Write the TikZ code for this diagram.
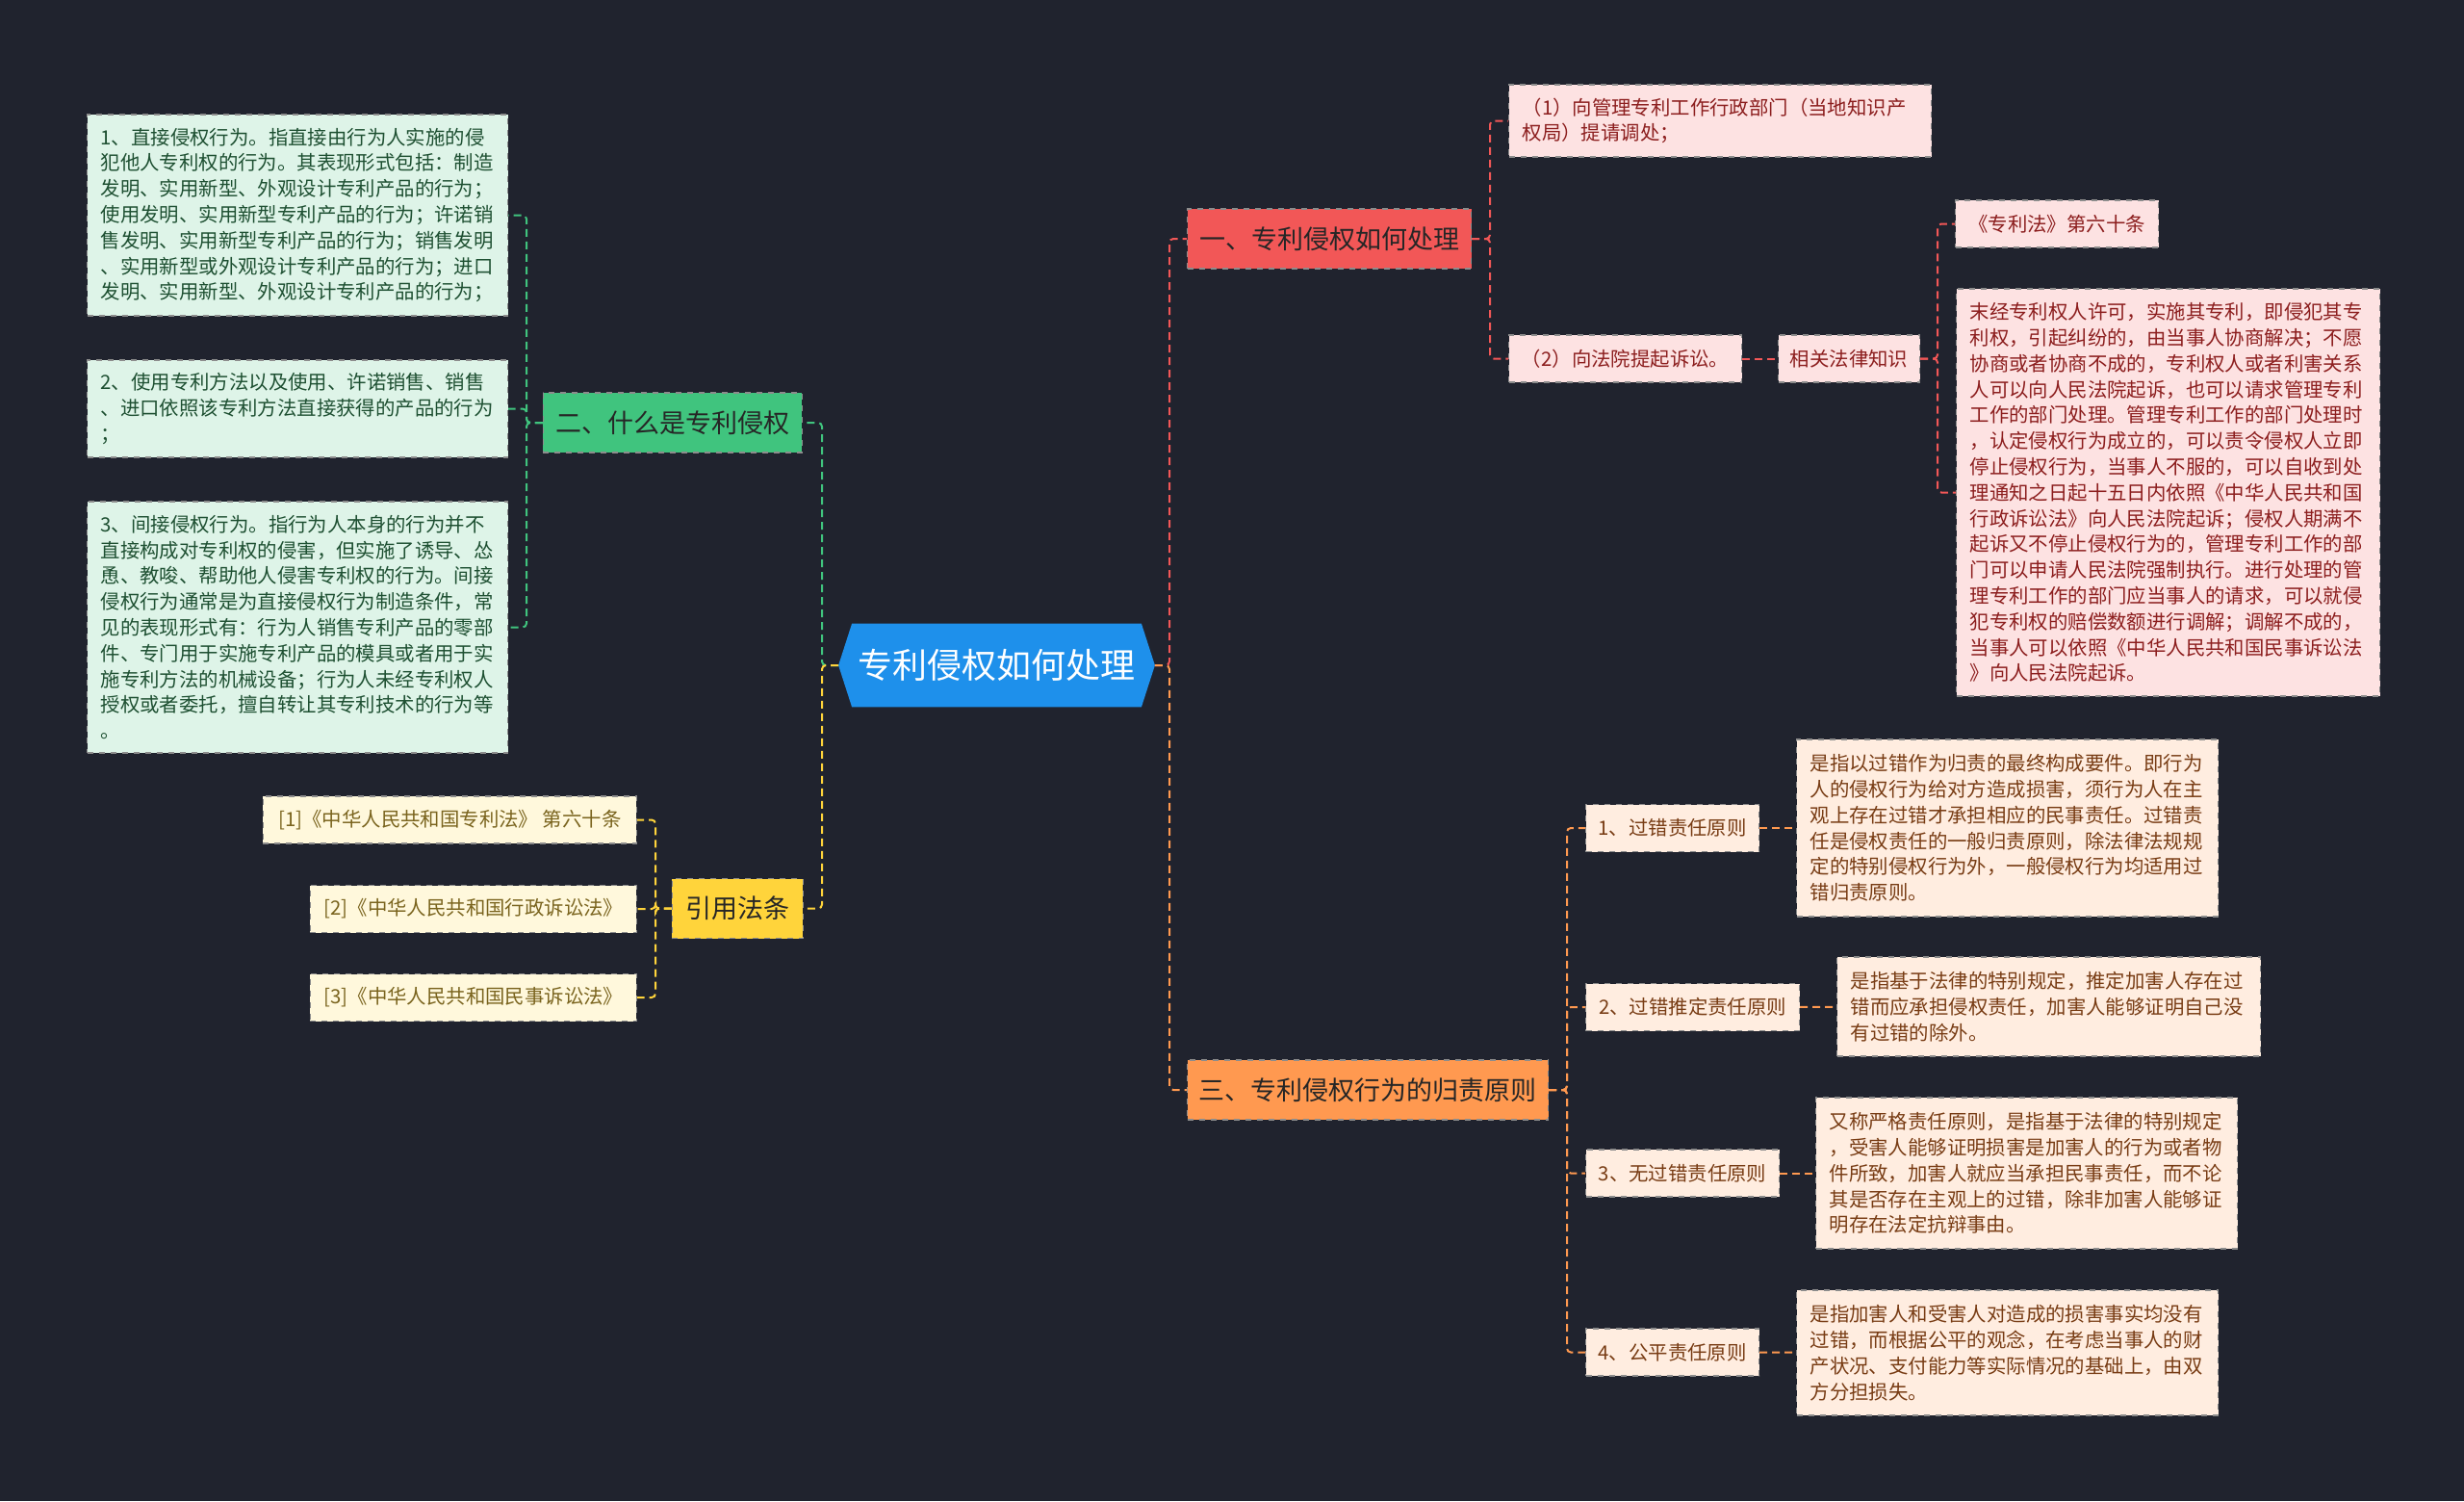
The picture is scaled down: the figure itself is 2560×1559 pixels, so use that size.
\documentclass[tikz,border=0pt]{standalone}
\usepackage{fontspec}
\setmainfont{Noto Sans CJK SC}
\usepackage{tikz}
\usetikzlibrary{positioning,calc,backgrounds}
\hfuzz=60pt
\hbadness=10000

\definecolor{bgdark}{RGB}{32,35,46}
\definecolor{rootblue}{RGB}{30,144,235}
\definecolor{brred}{RGB}{242,87,87}
\definecolor{brgreen}{RGB}{64,196,126}
\definecolor{bryellow}{RGB}{255,212,59}
\definecolor{brorange}{RGB}{255,153,80}
\definecolor{fmint}{RGB}{222,244,232}
\definecolor{fcream}{RGB}{255,248,220}
\definecolor{fpink}{RGB}{253,226,226}
\definecolor{fpeach}{RGB}{255,237,224}
\definecolor{tgreen}{RGB}{30,80,50}
\definecolor{tolive}{RGB}{122,100,30}
\definecolor{tred}{RGB}{140,30,30}
\definecolor{tbrown}{RGB}{120,60,20}

\begin{document}
\begin{tikzpicture}[
  x=0.5pt,y=-0.5pt,
  % --- shared look of the mind map boxes ---
  base/.style   ={draw=black!45,dashed,line width=0.6pt,inner ysep=0pt},
  rootbox/.style={inner xsep=10pt,minimum width=160.5pt,minimum height=43pt,
                  text=white,font=\fontsize{18pt}{20pt}\selectfont},
  branch/.style ={base,inner xsep=6pt,minimum height=31pt,text=black!85,
                  font=\fontsize{13.5pt}{16pt}\selectfont},
  leaf/.style   ={base,align=left,inner xsep=7pt,
                  font=\fontsize{10.2pt}{13.4pt}\selectfont},
  tag/.style    ={base,inner xsep=6pt,minimum height=24.5pt,
                  font=\fontsize{10.2pt}{13.4pt}\selectfont},
  link/.style   ={dashed,dash pattern=on 4pt off 2.5pt,line width=1pt,rounded corners=2pt},
  glink/.style  ={link,draw=brgreen},
  ylink/.style  ={link,draw=bryellow},
  rlink/.style  ={link,draw=brred},
  olink/.style  ={link,draw=brorange},
]

% ============================ canvas ============================
\useasboundingbox (0,0) rectangle (2560,1559);

% ============================ root and branches ============================
\node[rootbox] (root) at (1035.5,691) {专利侵权如何处理};

\node[branch,fill=brred,anchor=west,minimum width=147.5pt] (b1) at (1233,248) {一、专利侵权如何处理};
\node[branch,fill=brgreen,anchor=east,minimum width=134.5pt] (b2) at (834,439) {二、什么是专利侵权};
\node[branch,fill=bryellow,anchor=east,minimum width=68pt] (b3) at (835,943.5) {引用法条};
\node[branch,fill=brorange,anchor=west,minimum width=187.5pt] (b4) at (1233,1132) {三、专利侵权行为的归责原则};

\begin{scope}[on background layer]
  \fill[bgdark] (0,0) rectangle (2560,1559);
  \fill[rootblue] ([xshift=7pt]root.north west) -- ([xshift=-7pt]root.north east)
    -- (root.east) -- ([xshift=-7pt]root.south east) -- ([xshift=7pt]root.south west)
    -- (root.west) -- cycle;
\end{scope}

% ============================ green leaves ============================
\node[leaf,fill=fmint,text=tgreen,anchor=west,text width=204.5pt,minimum height=104.5pt] (g1) at (90,223.5)
  {1、直接侵权行为。指直接由行为人实施的侵\\
   犯他人专利权的行为。其表现形式包括：制造\\
   发明、实用新型、外观设计专利产品的行为；\\
   使用发明、实用新型专利产品的行为；许诺销\\
   售发明、实用新型专利产品的行为；销售发明\\
   、实用新型或外观设计专利产品的行为；进口\\
   发明、实用新型、外观设计专利产品的行为；};
\node[leaf,fill=fmint,text=tgreen,anchor=west,text width=204.5pt,minimum height=50.5pt] (g2) at (90,424.5)
  {2、使用专利方法以及使用、许诺销售、销售\\
   、进口依照该专利方法直接获得的产品的行为\\
   ；};
\node[leaf,fill=fmint,text=tgreen,anchor=west,text width=204.5pt,minimum height=130.5pt] (g3) at (90,651.5)
  {3、间接侵权行为。指行为人本身的行为并不\\
   直接构成对专利权的侵害，但实施了诱导、怂\\
   恿、教唆、帮助他人侵害专利权的行为。间接\\
   侵权行为通常是为直接侵权行为制造条件，常\\
   见的表现形式有：行为人销售专利产品的零部\\
   件、专门用于实施专利产品的模具或者用于实\\
   施专利方法的机械设备；行为人未经专利权人\\
   授权或者委托，擅自转让其专利技术的行为等\\
   。};

% ============================ cited laws ============================
\node[tag,fill=fcream,text=tolive,anchor=east,minimum width=194pt] (c1) at (662,851.5) {[1]《中华人民共和国专利法》 第六十条};
\node[tag,fill=fcream,text=tolive,anchor=east,minimum width=169.5pt] (c2) at (662,944) {[2]《中华人民共和国行政诉讼法》};
\node[tag,fill=fcream,text=tolive,anchor=east,minimum width=169.5pt] (c3) at (662,1036) {[3]《中华人民共和国民事诉讼法》};

% ============================ red leaves ============================
\node[leaf,fill=fpink,text=tred,anchor=west,text width=205.5pt,minimum height=37.5pt] (r1) at (1567,125.5)
  {（1）向管理专利工作行政部门（当地知识产\\
   权局）提请调处；};
\node[tag,fill=fpink,text=tred,anchor=west,minimum width=121pt] (r2) at (1567,372.5) {（2）向法院提起诉讼。};
\node[tag,fill=fpink,text=tred,anchor=west,minimum width=73.5pt] (r3) at (1847,372.5) {相关法律知识};
\node[tag,fill=fpink,text=tred,anchor=west,minimum width=105.5pt] (r4) at (2031,232.5) {《专利法》第六十条};
\node[leaf,fill=fpink,text=tred,anchor=west,text width=206pt,minimum height=211.5pt] (r5) at (2032,511.5)
  {末经专利权人许可，实施其专利，即侵犯其专\\
   利权，引起纠纷的，由当事人协商解决；不愿\\
   协商或者协商不成的，专利权人或者利害关系\\
   人可以向人民法院起诉，也可以请求管理专利\\
   工作的部门处理。管理专利工作的部门处理时\\
   ，认定侵权行为成立的，可以责令侵权人立即\\
   停止侵权行为，当事人不服的，可以自收到处\\
   理通知之日起十五日内依照《中华人民共和国\\
   行政诉讼法》向人民法院起诉；侵权人期满不\\
   起诉又不停止侵权行为的，管理专利工作的部\\
   门可以申请人民法院强制执行。进行处理的管\\
   理专利工作的部门应当事人的请求，可以就侵\\
   犯专利权的赔偿数额进行调解；调解不成的，\\
   当事人可以依照《中华人民共和国民事诉讼法\\
   》向人民法院起诉。};

% ============================ orange leaves ============================
\node[tag,fill=fpeach,text=tbrown,anchor=west,minimum width=90pt] (o1) at (1647,860) {1、过错责任原则};
\node[leaf,fill=fpeach,text=tbrown,anchor=west,text width=205pt,minimum height=92pt] (o1d) at (1866,860)
  {是指以过错作为归责的最终构成要件。即行为\\
   人的侵权行为给对方造成损害，须行为人在主\\
   观上存在过错才承担相应的民事责任。过错责\\
   任是侵权责任的一般归责原则，除法律法规规\\
   定的特别侵权行为外，一般侵权行为均适用过\\
   错归责原则。};
\node[tag,fill=fpeach,text=tbrown,anchor=west,minimum width=111pt] (o2) at (1647,1046) {2、过错推定责任原则};
\node[leaf,fill=fpeach,text=tbrown,anchor=west,text width=206pt,minimum height=51.5pt] (o2d) at (1908,1045.5)
  {是指基于法律的特别规定，推定加害人存在过\\
   错而应承担侵权责任，加害人能够证明自己没\\
   有过错的除外。};
\node[tag,fill=fpeach,text=tbrown,anchor=west,minimum width=100.5pt] (o3) at (1647,1218.5) {3、无过错责任原则};
\node[leaf,fill=fpeach,text=tbrown,anchor=west,text width=205pt,minimum height=78.5pt] (o3d) at (1886,1218.5)
  {又称严格责任原则，是指基于法律的特别规定\\
   ，受害人能够证明损害是加害人的行为或者物\\
   件所致，加害人就应当承担民事责任，而不论\\
   其是否存在主观上的过错，除非加害人能够证\\
   明存在法定抗辩事由。};
\node[tag,fill=fpeach,text=tbrown,anchor=west,minimum width=90pt] (o4) at (1647,1404.5) {4、公平责任原则};
\node[leaf,fill=fpeach,text=tbrown,anchor=west,text width=205pt,minimum height=65pt] (o4d) at (1866,1405)
  {是指加害人和受害人对造成的损害事实均没有\\
   过错，而根据公平的观念，在考虑当事人的财\\
   产状况、支付能力等实际情况的基础上，由双\\
   方分担损失。};

% ============================ connectors ============================
% trunk x positions of the elbow connectors
\coordinate (lt) at (854,0);
\coordinate (rt) at (1215,0);
\coordinate (gt) at (547,0);
\coordinate (yt) at (681,0);
\coordinate (rt1) at (1548,0);
\coordinate (rt2) at (2013,0);
\coordinate (ot) at (1628,0);

\draw[glink] (root.west) -- (lt |- root.west) |- (b2.east);
\draw[ylink] (root.west) -- (lt |- root.west) |- (b3.east);
\draw[rlink] (root.east) -- (rt |- root.east) |- (b1.west);
\draw[olink] (root.east) -- (rt |- root.east) |- (b4.west);

\foreach \n in {g1,g2,g3}
  \draw[glink] (b2.west) -- (gt |- b2.west) |- (\n.east);
\foreach \n in {c1,c2,c3}
  \draw[ylink] (b3.west) -- (yt |- b3.west) |- (\n.east);
\foreach \n in {r1,r2}
  \draw[rlink] (b1.east) -- (rt1 |- b1.east) |- (\n.west);
\draw[rlink] (r2) -- (r3);
\foreach \n in {r4,r5}
  \draw[rlink] (r3.east) -- (rt2 |- r3.east) |- (\n.west);
\foreach \n in {o1,o2,o3,o4}{
  \draw[olink] (b4.east) -- (ot |- b4.east) |- (\n.west);
  \draw[olink] (\n) -- (\n d);
}

\end{tikzpicture}
\end{document}
